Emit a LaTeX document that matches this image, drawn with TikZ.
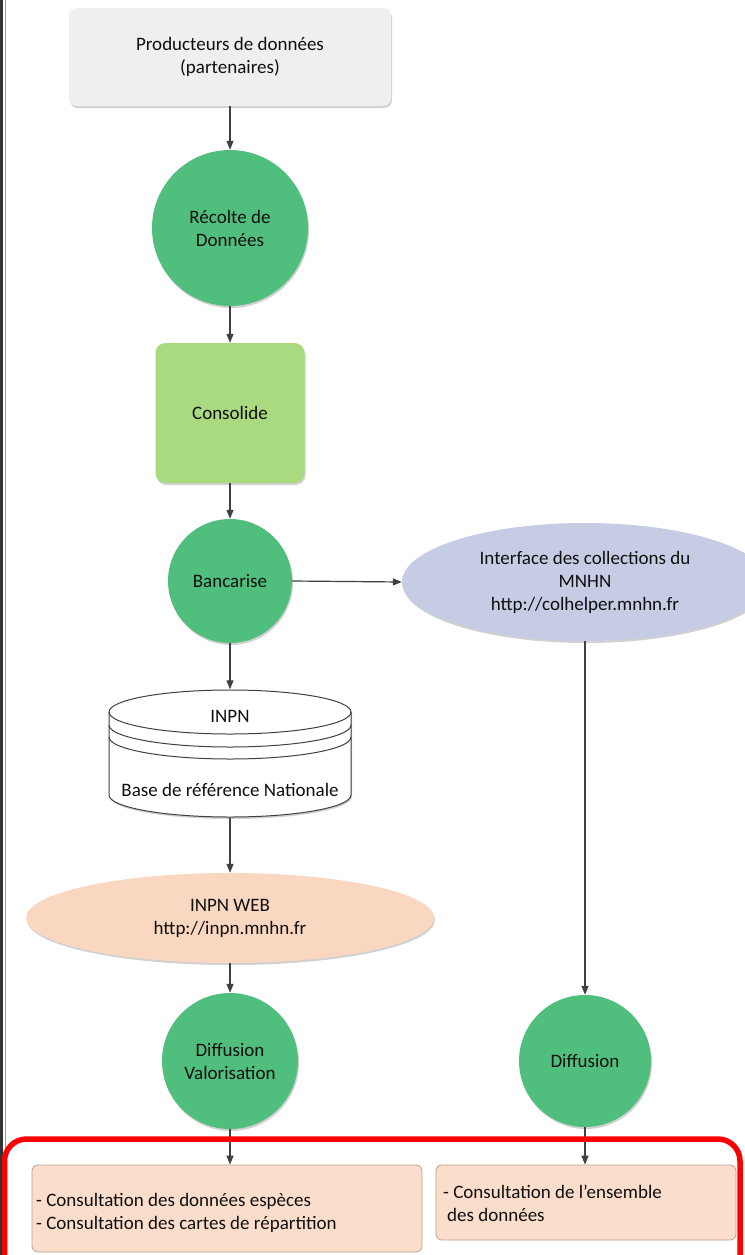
\documentclass[tikz,border=0pt]{standalone}
\usepackage{fontspec}
\setmainfont{Carlito}
\usetikzlibrary{arrows.meta,shapes.geometric,shadows}
\definecolor{gcircle}{RGB}{80,190,125}
\definecolor{gbox}{RGB}{170,218,128}
\definecolor{greybox}{RGB}{239,239,239}
\definecolor{lavender}{RGB}{198,204,228}
\definecolor{peach}{RGB}{249,215,192}
\definecolor{boxfill}{RGB}{250,221,202}
\definecolor{boxline}{RGB}{190,160,140}
\definecolor{arrowcol}{RGB}{64,64,64}
\definecolor{txt}{RGB}{15,15,15}
\tikzset{
  base/.style={font=\fontsize{19}{23}\selectfont, text=txt, align=center, inner sep=0pt},
  shade/.style={drop shadow={shadow xshift=1pt, shadow yshift=-2pt, opacity=0.18, fill=black}},
  greencircle/.style={base, circle, fill=gcircle, shade},
  flowarrow/.style={draw=arrowcol, line width=1.2pt, -{Triangle[length=9pt,width=7pt]}},
  outbox/.style={rectangle, rounded corners=6pt, fill=boxfill, draw=boxline, line width=0.8pt},
  cyl/.style={draw=arrowcol, line width=1pt}
}
\begin{document}
\begin{tikzpicture}[x=1pt,y=-1pt]
\useasboundingbox (0,0) rectangle (744,1255);
\fill[white] (0,0) rectangle (744,1255);
% left border
\fill[black!80] (0,0) rectangle (2.5,1255);
\draw[black!40, line width=1pt] (5.5,0) -- (5.5,1255);

% nodes
\node[base, rectangle, rounded corners=8pt, fill=greybox, minimum width=322pt, minimum height=98pt, shade] (prod) at (230,57) {Producteurs de données\\(partenaires)};
\node[greencircle, minimum size=156pt] (recolte) at (230,228) {Récolte de\\Données};
\node[base, rectangle, rounded corners=10pt, fill=gbox, minimum width=149pt, minimum height=140pt, shade] (consol) at (230,413) {Consolide};
\node[greencircle, minimum size=124pt] (banc) at (230,581) {Bancarise};
\node[base, ellipse, fill=lavender, minimum width=366pt, minimum height=118pt, shade] (inter) at (585,582) {Interface des collections du\\MNHN\\http://colhelper.mnhn.fr};

% cylinder
\node[base, rectangle, minimum width=242pt, minimum height=128pt] (inpn) at (230,753.5) {};
\path[cyl, fill=white, shade] (109,712) -- (109,795) arc[start angle=180,end angle=0,x radius=121,y radius=22] -- (351,712) arc[start angle=0,end angle=-180,x radius=121,y radius=22] -- cycle;
\draw[cyl] (109,712) arc[start angle=180,end angle=0,x radius=121,y radius=22];
\draw[cyl] (109,725) arc[start angle=180,end angle=0,x radius=121,y radius=22];
\draw[cyl] (109,737) arc[start angle=180,end angle=0,x radius=121,y radius=22];
\node[base] (inpnA) at (230,716) {INPN};
\node[base] (inpnB) at (230,790) {Base de référence Nationale};

\node[base, ellipse, fill=peach, minimum width=408pt, minimum height=90pt, shade] (web) at (230,918) {INPN WEB\\http://inpn.mnhn.fr};
\node[greencircle, minimum size=136pt] (diffv) at (230,1061) {Diffusion\\Valorisation};
\node[greencircle, minimum size=132pt] (diff) at (585,1061) {Diffusion};

\node[outbox, minimum width=390pt, minimum height=87pt] (box1) at (227,1208.5) {};
\node[base, anchor=west, align=left] (t1) at (36,1213) {- Consultation des données espèces\\- Consultation des cartes de répartition};
\node[outbox, minimum width=300pt, minimum height=75pt] (box2) at (586,1202.5) {};
\node[base, anchor=west, align=left] (t2) at (443,1203) {- Consultation de l'ensemble\\\hspace{4pt}des données};

% connectors
\draw[flowarrow] (prod.south) -- (recolte.north);
\draw[flowarrow] (recolte.south) -- (consol.north);
\draw[flowarrow] (consol.south) -- (banc.north);
\draw[flowarrow] (banc.east) -- (inter.west);
\draw[flowarrow] (banc.south) -- (inpn.north);
\draw[flowarrow] (inpn.south) -- (web.north);
\draw[flowarrow] (web.south) -- (diffv.north);
\draw[flowarrow] (inter.south) -- (diff.north);
\draw[flowarrow] (diffv.south) -- (diffv.south |- box1.north);
\draw[flowarrow] (diff.south) -- (diff.south |- box2.north);

% red frame
\draw[red, line width=5.5pt, rounded corners=22pt] (4.5,1139) rectangle (740,1300);
\end{tikzpicture}
\end{document}
